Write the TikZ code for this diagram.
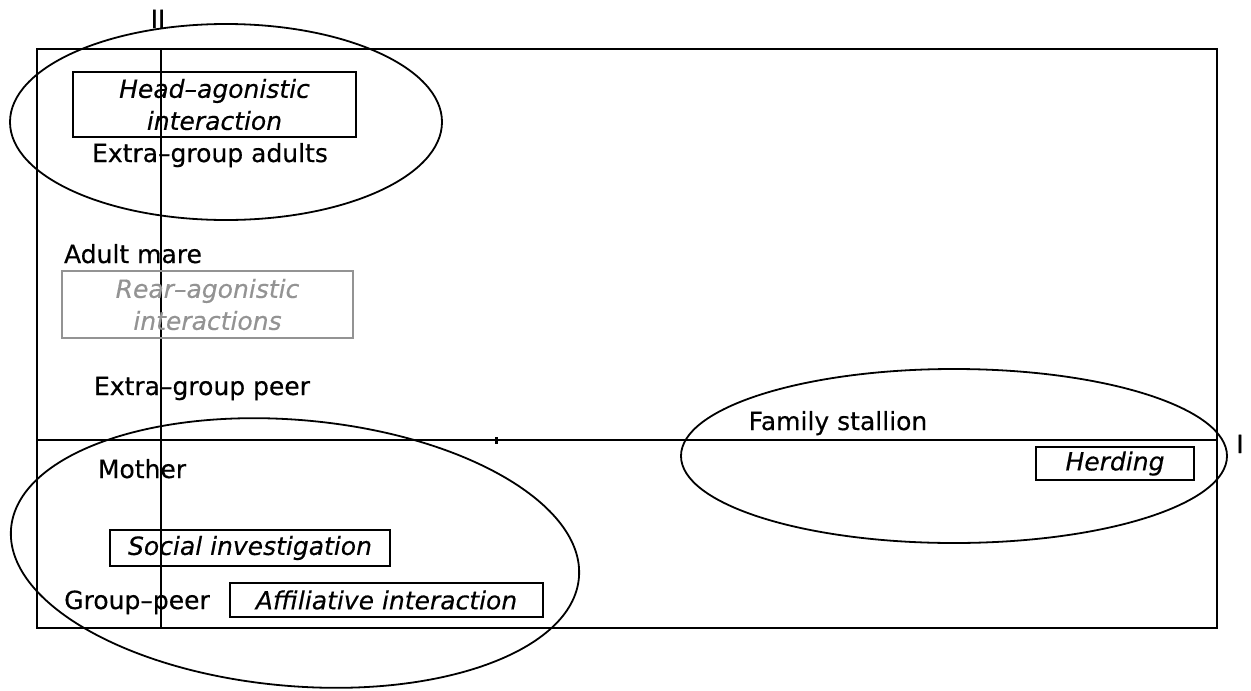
\documentclass[tikz,border=0pt]{standalone}
\usepackage{fontspec}
\setmainfont{DejaVu Sans}[FakeBold=0.4,ItalicFeatures={FakeBold=0.4}]
\usetikzlibrary{positioning}

\begin{document}
\begin{tikzpicture}[x=1pt, y=-1pt, line width=2.4pt,
        box/.style={rectangle, draw, line width=2.2pt, font=\fontsize{25}{32}\selectfont\itshape, align=center, inner sep=0pt},
        greybox/.style={box, draw=gray!85, text=gray!85},
        lbl/.style={font=\fontsize{25}{32}\selectfont, inner sep=0pt, anchor=base},
        ring/.style={line width=1.8pt}]

    \useasboundingbox (0,0) rectangle (1251,691);

    % frame and axes
    \coordinate (frametl) at (37,49);
    \coordinate (framebr) at (1217,628);
    \coordinate (xleft) at (37,440);
    \coordinate (xright) at (1217,440);
    \coordinate (ytop) at (161,49);
    \coordinate (ybot) at (161,628);
    \coordinate (ticktop) at (496,437);
    \coordinate (tickbot) at (496,444);
    \draw (frametl) rectangle (framebr);
    \draw (xleft) -- (xright);
    \draw (ytop) -- (ybot);
    \draw[line width=3pt] (ticktop) -- (tickbot);
    \node[lbl] (axisone) at (1240,453) {I};
    \node[lbl] (axistwo) at (158,28) {II};

    % groupings
    \draw[ring] (226,122) ellipse [x radius=216pt, y radius=98pt];
    \draw[ring] (295,553) ellipse [x radius=285pt, y radius=133pt, rotate=-5];
    \draw[ring] (954,456) ellipse [x radius=273pt, y radius=87pt];

    % partners
    \node[lbl] (extraadults) at (210,162) {Extra–group adults};
    \node[lbl] (adultmare) at (133,263) {Adult mare};
    \node[lbl] (extrapeer) at (202,395) {Extra–group peer};
    \node[lbl] (stallion) at (838,430) {Family stallion};
    \node[lbl] (mother) at (142,478) {Mother};
    \node[lbl] (grouppeer) at (137,609) {Group–peer};

    % behaviours
    \node[box, minimum width=283pt, minimum height=65pt] (headago) at (214.5,104.5) {Head–agonistic\\interaction};
    \node[greybox, minimum width=291pt, minimum height=67pt] (rearago) at (207.5,304.5) {Rear–agonistic\\interactions};
    \node[box, minimum width=158pt, minimum height=33pt] (herding) at (1115,463.5) {Herding};
    \node[box, minimum width=280pt, minimum height=36pt] (socinv) at (250,548) {Social investigation};
    \node[box, minimum width=313pt, minimum height=34pt] (affil) at (386.5,600) {Affiliative interaction};

\end{tikzpicture}
\end{document}
